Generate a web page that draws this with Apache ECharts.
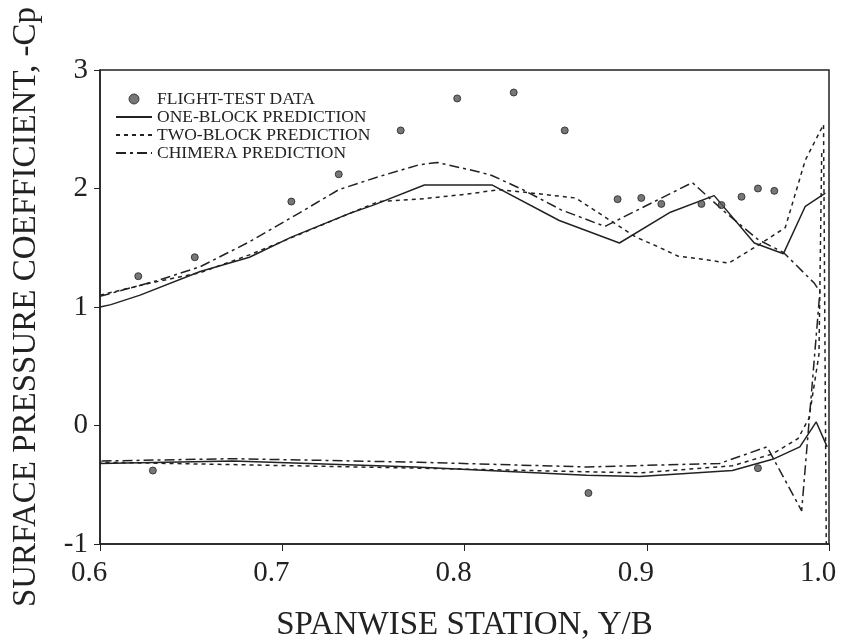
<!DOCTYPE html>
<html>
<head>
<meta charset="utf-8">
<script src="https://cdn.jsdelivr.net/npm/echarts@6/dist/echarts.min.js"></script>
<style>
  html, body { margin: 0; padding: 0; background: #fff; }
  #chart { width: 841px; height: 644px; }
</style>
</head>
<body>
<div id="chart"></div>
<script>
// 轴刻度
const xTicks = [0.6, 0.7, 0.8, 0.9, 1.0]
const yTicks = [-1, 0, 1, 2, 3]

// 飞行试验数据 [Y/B, -Cp]
const flightTest = [
  [0.621, 1.26], [0.652, 1.42], [0.705, 1.89], [0.731, 2.12], [0.765, 2.49],
  [0.796, 2.76], [0.827, 2.81], [0.855, 2.49], [0.884, 1.91], [0.897, 1.92],
  [0.908, 1.87], [0.930, 1.87], [0.941, 1.86], [0.952, 1.93], [0.961, 2.00],
  [0.970, 1.98],
  [0.629, -0.38], [0.868, -0.57], [0.961, -0.36]
]

// one-block: 上表面 (根部 -> 翼尖), 下表面 (翼尖 -> 根部)
const oneBlockUpper = [
  [0.600, 1.00], [0.606, 1.02], [0.622, 1.10], [0.655, 1.30], [0.682, 1.42],
  [0.705, 1.59], [0.737, 1.79], [0.750, 1.86], [0.778, 2.03], [0.815, 2.03],
  [0.852, 1.73], [0.885, 1.54], [0.913, 1.80], [0.937, 1.94], [0.959, 1.54],
  [0.975, 1.45], [0.987, 1.85], [0.998, 1.96]
]
const oneBlockLower = [
  [0.999, -0.18], [0.993, 0.03], [0.984, -0.18], [0.970, -0.28], [0.947, -0.38],
  [0.896, -0.43], [0.867, -0.42], [0.773, -0.35], [0.673, -0.30], [0.600, -0.32]
]

// two-block
const twoBlockUpper = [
  [0.600, 1.10], [0.627, 1.20], [0.655, 1.29], [0.682, 1.44], [0.709, 1.61],
  [0.737, 1.79], [0.753, 1.89], [0.775, 1.91], [0.800, 1.95], [0.819, 1.99],
  [0.832, 1.97], [0.861, 1.92], [0.870, 1.83], [0.881, 1.72], [0.894, 1.59],
  [0.906, 1.51], [0.917, 1.43], [0.932, 1.40], [0.945, 1.37], [0.961, 1.52],
  [0.976, 1.67], [0.987, 2.24], [0.997, 2.54], [0.9985, -1.00]
]
const twoBlockLower = [
  [0.996, 2.30], [0.9945, 0.60], [0.989, 0.06], [0.983, -0.11], [0.969, -0.24],
  [0.947, -0.34], [0.896, -0.40], [0.775, -0.36], [0.673, -0.33], [0.600, -0.31]
]

// chimera
const chimeraUpper = [
  [0.600, 1.09], [0.633, 1.23], [0.655, 1.34], [0.682, 1.55], [0.709, 1.79],
  [0.731, 1.99], [0.753, 2.10], [0.775, 2.20], [0.785, 2.22], [0.808, 2.14],
  [0.815, 2.11], [0.832, 1.99], [0.853, 1.82], [0.877, 1.68], [0.925, 2.05],
  [0.943, 1.80], [0.961, 1.57], [0.975, 1.46], [0.992, 1.20], [0.995, 1.13]
]
const chimeraLower = [
  [0.985, -0.72], [0.966, -0.18], [0.940, -0.32], [0.867, -0.35], [0.775, -0.31],
  [0.673, -0.28], [0.600, -0.30]
]

const ink = '#222'
const serif = 'Liberation Serif'

function predLine(name, data, type) {
  return {
    name: name,
    type: 'line',
    data: data,
    symbol: 'none',
    lineStyle: { color: ink, width: 1.5, type: type },
    itemStyle: { color: ink },
    z: 2
  }
}

// 图例里的线条不要圆点
const noDot = { opacity: 0 }

const chart = echarts.init(document.getElementById('chart'))
chart.setOption({
  animation: false,
  backgroundColor: '#fff',
  grid: {
    left: 100, right: 12, top: 70, bottom: 100,
    containLabel: false,
    outerBoundsMode: 'none',
    show: true, borderColor: ink, borderWidth: 1.5
  },
  legend: {
    orient: 'vertical',
    left: 115, top: 90, padding: 0,
    itemWidth: 36, itemHeight: 10, itemGap: 0,
    data: [
      { name: 'FLIGHT-TEST DATA', itemStyle: { borderWidth: 1 } },
      { name: 'ONE-BLOCK PREDICTION', itemStyle: noDot },
      { name: 'TWO-BLOCK PREDICTION', itemStyle: noDot },
      { name: 'CHIMERA PREDICTION', itemStyle: noDot }
    ],
    textStyle: { fontFamily: serif, fontSize: 17.5, color: ink, lineHeight: 17 }
  },
  xAxis: {
    type: 'value',
    min: xTicks[0], max: xTicks[xTicks.length - 1], interval: 0.1,
    name: 'SPANWISE STATION, Y/B',
    nameLocation: 'middle', nameGap: 65, nameMoveOverlap: false,
    nameTextStyle: { fontFamily: serif, fontSize: 33, color: ink },
    axisLine: { onZero: false, lineStyle: { color: ink, width: 1.5 } },
    axisTick: { length: 7, lineStyle: { color: ink } },
    axisLabel: {
      fontFamily: serif, fontSize: 29, color: ink, margin: 15,
      padding: [0, 22, 0, 0],
      formatter: v => v.toFixed(1)
    },
    splitLine: { show: false }
  },
  yAxis: {
    type: 'value',
    min: yTicks[0], max: yTicks[yTicks.length - 1], interval: 1,
    name: 'SURFACE PRESSURE COEFFICIENT, -Cp',
    nameLocation: 'middle', nameGap: 57, nameMoveOverlap: false,
    nameTextStyle: { fontFamily: serif, fontSize: 33, color: ink },
    axisLine: { onZero: false, lineStyle: { color: ink, width: 1.5 } },
    axisTick: { length: 6, lineStyle: { color: ink } },
    axisLabel: { fontFamily: serif, fontSize: 29, color: ink, margin: 12 },
    splitLine: { show: false }
  },
  series: [
    {
      name: 'FLIGHT-TEST DATA',
      type: 'scatter',
      data: flightTest,
      symbol: 'circle',
      symbolSize: 7,
      itemStyle: { color: '#555', borderColor: '#222', borderWidth: 1 },
      z: 3
    },
    predLine('ONE-BLOCK PREDICTION', oneBlockUpper, 'solid'),
    predLine('ONE-BLOCK PREDICTION', oneBlockLower, 'solid'),
    predLine('TWO-BLOCK PREDICTION', twoBlockUpper, [4, 4]),
    predLine('TWO-BLOCK PREDICTION', twoBlockLower, [4, 4]),
    predLine('CHIMERA PREDICTION', chimeraUpper.concat(chimeraLower), [10, 4, 3, 4])
  ]
})
</script>
</body>
</html>
